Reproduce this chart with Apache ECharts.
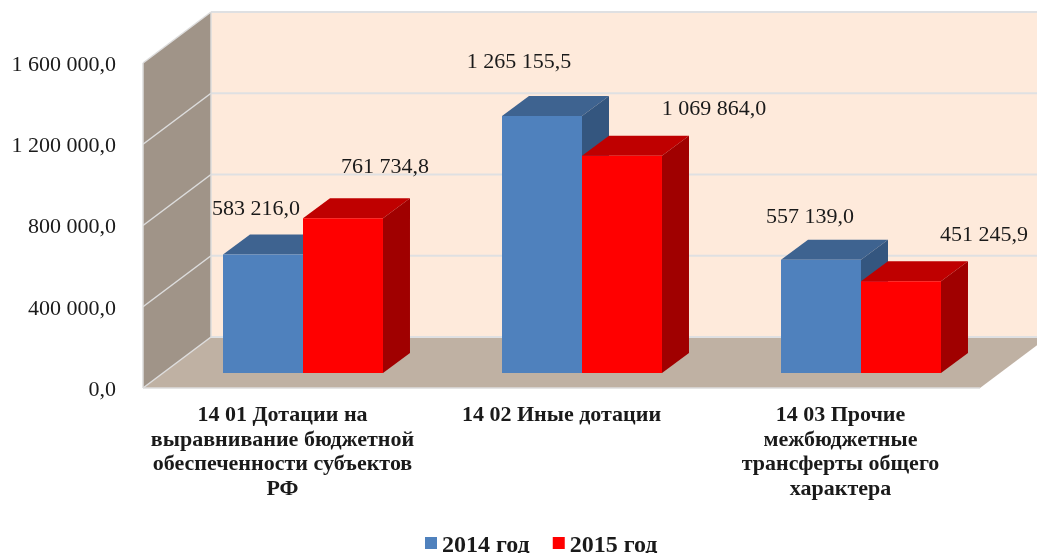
<!DOCTYPE html>
<html>
<head>
<meta charset="utf-8">
<style>html,body{margin:0;padding:0;background:#fff}#c{width:1037px;height:553px;filter:blur(0.45px)}</style>
<script src="https://cdn.jsdelivr.net/npm/echarts@6/dist/echarts.min.js"></script>
</head>
<body>
<div id="c"></div>
<script>
const categories = [
  '14 01 Дотации на\nвыравнивание бюджетной\nобеспеченности субъектов\nРФ',
  '14 02 Иные дотации',
  '14 03 Прочие\nмежбюджетные\nтрансферты общего\nхарактера'
];
const values2014 = [583216.0, 1265155.5, 557139.0];
const values2015 = [761734.8, 1069864.0, 451245.9];
const valueLabels2014 = ['583 216,0', '1 265 155,5', '557 139,0'];
const valueLabels2015 = ['761 734,8', '1 069 864,0', '451 245,9'];
const yTicks = [0, 400000, 800000, 1200000, 1600000];
const yTickLabels = ['0,0', '400 000,0', '800 000,0', '1 200 000,0', '1 600 000,0'];
// manual label placement (pixels from the top-centre of each bar's front face)
const labelShift2014 = [[-7, -45], [-23, -54], [-11, -43]];
const labelShift2015 = [[42, -51], [92, -46], [83, -46]];

const FONT = '"Liberation Serif", serif';
const WALL_DX = 68, WALL_DY = -51;     // depth of the chart box
const BAR_OFF_X = 20.5, BAR_OFF_Y = -15; // bar front plane inside the box
const BAR_DX = 27, BAR_DY = -20;       // depth of the bars
const BAR_SHARE = 0.2867;              // bar width as share of the band

function poly(points, fill) {
  return { type: 'polygon', shape: { points }, style: { fill, stroke: null } };
}
function seg(a, b, stroke, w) {
  return { type: 'line', shape: { x1: a[0], y1: a[1], x2: b[0], y2: b[1] }, style: { stroke, lineWidth: w } };
}
function box() {
  return function (params, api) {
    const left = api.coord([0, 0])[0] - api.size([1, 0])[0] / 2;
    const right = api.coord([2, 0])[0] + api.size([1, 0])[0] / 2;
    const y0 = api.coord([0, yTicks[0]])[1];
    const yT = api.coord([0, yTicks[yTicks.length - 1]])[1];
    const bx = left + WALL_DX, dy = WALL_DY, rx = right + WALL_DX;
    const kids = [
      poly([[bx, yT + dy], [rx, yT + dy], [rx, y0 + dy], [bx, y0 + dy]], '#FEEADB'),
      poly([[left, yT], [bx, yT + dy], [bx, y0 + dy], [left, y0]], '#A09488'),
      poly([[left, y0], [bx, y0 + dy], [rx, y0 + dy], [right, y0]], '#BFB1A3')
    ];
    yTicks.forEach(t => {
      const y = api.coord([0, t])[1];
      kids.push(seg([left, y], [bx, y + dy], '#DDDDDD', 1.5));
      kids.push(seg([bx, y + dy], [rx, y + dy], '#DFE0E2', 2));
    });
    kids.push(seg([bx, yT + dy], [bx, y0 + dy], '#DDDDDD', 1.5));
    kids.push(seg([left, yT], [left, y0], '#DDDDDD', 1.5));
    kids.push(seg([left, y0], [right, y0], '#DDDDDD', 1.5));
    return { type: 'group', children: kids };
  };
}
function bar3d(front, top, side, sign, texts, shifts) {
  return function (params, api) {
    const i = api.value(0), v = api.value(1);
    const c = api.coord([i, v]), b = api.coord([i, 0]);
    const w = api.size([1, 0])[0] * BAR_SHARE;
    const x0 = c[0] + BAR_OFF_X + (sign < 0 ? -w : 0), x1 = x0 + w;
    const yt = c[1] + BAR_OFF_Y, yb = b[1] + BAR_OFF_Y;
    const ux = BAR_DX, uy = BAR_DY;
    const s = shifts[i];
    return {
      type: 'group',
      children: [
        poly([[x0, yt], [x1, yt], [x1 + ux, yt + uy], [x0 + ux, yt + uy]], top),
        poly([[x1, yt], [x1 + ux, yt + uy], [x1 + ux, yb + uy], [x1, yb]], side),
        poly([[x0, yt], [x1, yt], [x1, yb], [x0, yb]], front),
        {
          type: 'text', z2: 100,
          style: {
            text: texts[i], x: (x0 + x1) / 2 + s[0], y: yt + s[1],
            align: 'center', verticalAlign: 'middle',
            font: '22px ' + FONT, fill: '#1a1a1a'
          }
        }
      ]
    };
  };
}

const chart = echarts.init(document.getElementById('c'), null, { renderer: 'canvas' });
chart.setOption({
  animation: false,
  backgroundColor: '#ffffff',
  grid: { left: 143, right: 57, top: 63, bottom: 165, containLabel: false },
  legend: {
    data: ['2014 год', '2015 год'],
    left: 420, top: 529,
    icon: 'rect', itemWidth: 12, itemHeight: 12, itemGap: 23,
    selectedMode: false,
    formatter: name => '{a|' + name + '}',
    textStyle: {
      rich: { a: { fontFamily: FONT, fontSize: 24, fontWeight: 'bold', color: '#1a1a1a', padding: [6, 0, 0, 0] } }
    }
  },
  xAxis: {
    type: 'category', data: categories, boundaryGap: true,
    axisLine: { show: false }, axisTick: { show: false }, splitLine: { show: false },
    axisLabel: {
      interval: 0, margin: 15, fontFamily: FONT, fontSize: 22, fontWeight: 'bold', color: '#1a1a1a',
      lineHeight: 24.6, align: 'center', verticalAlign: 'top'
    }
  },
  yAxis: {
    type: 'value', min: 0, max: 1600000, interval: 400000,
    axisLine: { show: false }, axisTick: { show: false }, splitLine: { show: false },
    axisLabel: {
      margin: 27,
      formatter: v => '{a|' + yTickLabels[yTicks.indexOf(v)] + '}',
      rich: { a: { fontFamily: FONT, fontSize: 22, color: '#1a1a1a', padding: [4, 0, 0, 0] } }
    }
  },
  series: [
    { type: 'custom', silent: true, z: 1, clip: false, data: [[0, 0]], renderItem: box() },
    {
      name: '2014 год', type: 'custom', z: 2, clip: false,
      itemStyle: { color: '#4F81BD' },
      encode: { x: 0, y: 1 },
      data: values2014.map((v, i) => [i, v]),
      renderItem: bar3d('#4F81BD', '#3E6390', '#34567F', -1, valueLabels2014, labelShift2014)
    },
    {
      name: '2015 год', type: 'custom', z: 3, clip: false,
      itemStyle: { color: '#FF0000' },
      encode: { x: 0, y: 1 },
      data: values2015.map((v, i) => [i, v]),
      renderItem: bar3d('#FF0000', '#BF0000', '#A00000', 1, valueLabels2015, labelShift2015)
    }
  ]
});
</script>
</body>
</html>
